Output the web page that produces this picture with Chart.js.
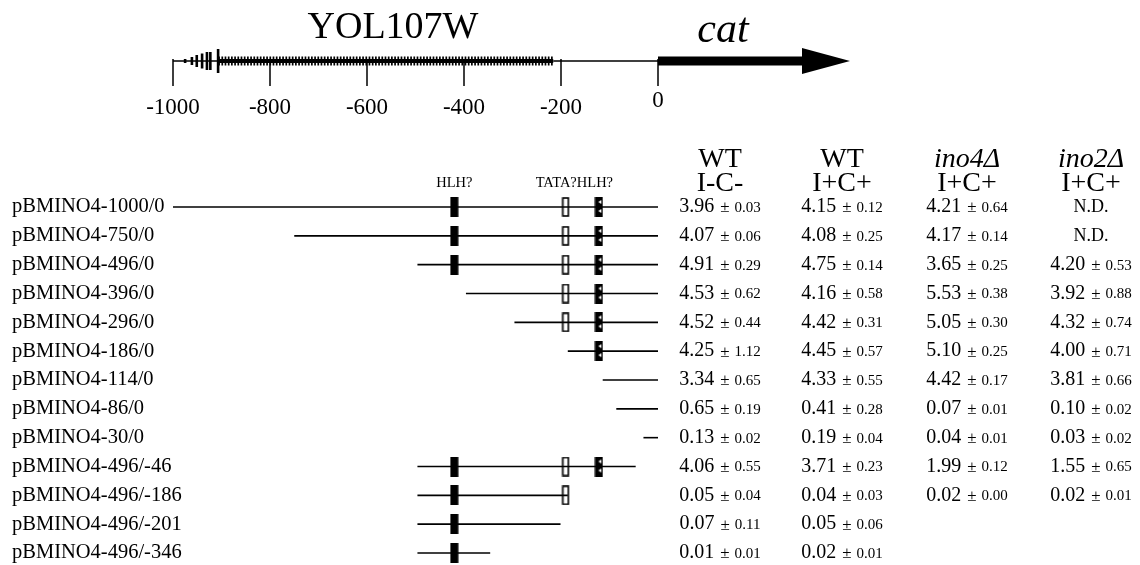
<!DOCTYPE html>
<html>
<head>
<meta charset="utf-8">
<script src="https://cdn.jsdelivr.net/npm/chart.js@4.4.1/dist/chart.umd.min.js"></script>
<style>
  body { margin: 0; background: #fff; }
  canvas { display: block; }
</style>
</head>
<body>
<canvas id="map" width="1140" height="565"></canvas>
<script>
// --- data ---
const constructs = ['pBMINO4-1000/0', 'pBMINO4-750/0', 'pBMINO4-496/0', 'pBMINO4-396/0', 'pBMINO4-296/0',
  'pBMINO4-186/0', 'pBMINO4-114/0', 'pBMINO4-86/0', 'pBMINO4-30/0', 'pBMINO4-496/-46',
  'pBMINO4-496/-186', 'pBMINO4-496/-201', 'pBMINO4-496/-346'];
const starts = [-1000, -750, -496, -396, -296, -186, -114, -86, -30, -496, -496, -496, -496];
const ends = [0, 0, 0, 0, 0, 0, 0, 0, 0, -46, -186, -201, -346];

const hlhUp = -420;    // HLH? (upstream)
const tataBox = -190;  // TATA?
const hlhDown = -122;  // HLH? (downstream)

const scaleTicks = [-1000, -800, -600, -400, -200, 0];

const wtRepMean = [3.96, 4.07, 4.91, 4.53, 4.52, 4.25, 3.34, 0.65, 0.13, 4.06, 0.05, 0.07, 0.01];
const wtRepErr = [0.03, 0.06, 0.29, 0.62, 0.44, 1.12, 0.65, 0.19, 0.02, 0.55, 0.04, 0.11, 0.01];
const wtIndMean = [4.15, 4.08, 4.75, 4.16, 4.42, 4.45, 4.33, 0.41, 0.19, 3.71, 0.04, 0.05, 0.02];
const wtIndErr = [0.12, 0.25, 0.14, 0.58, 0.31, 0.57, 0.55, 0.28, 0.04, 0.23, 0.03, 0.06, 0.01];
const ino4Mean = [4.21, 4.17, 3.65, 5.53, 5.05, 5.10, 4.42, 0.07, 0.04, 1.99, 0.02, null, null];
const ino4Err = [0.64, 0.14, 0.25, 0.38, 0.30, 0.25, 0.17, 0.01, 0.01, 0.12, 0.00, null, null];
const ino2Mean = ['N.D.', 'N.D.', 4.20, 3.92, 4.32, 4.00, 3.81, 0.10, 0.03, 1.55, 0.02, null, null];
const ino2Err = [null, null, 0.53, 0.88, 0.74, 0.71, 0.66, 0.02, 0.02, 0.65, 0.01, null, null];

const serif = '"Liberation Serif", "DejaVu Serif", serif';

// --- box markers as point images ---
function makeBox(kind) {
  const c = document.createElement('canvas');
  c.width = 9; c.height = 20;
  const g = c.getContext('2d');
  if (kind === 'open') {
    g.fillStyle = '#fff';
    g.fillRect(0, 0, 8, 20);
    g.strokeStyle = '#000';
    g.lineWidth = 1.6;
    g.strokeRect(1.5, 1, 5.5, 18);
  } else {
    g.fillStyle = '#000';
    g.fillRect(0.5, 0, 8, 20);
    if (kind === 'notched') {
      g.fillStyle = '#fff';
      g.beginPath(); g.moveTo(4, 5); g.lineTo(7, 3); g.lineTo(7, 7); g.closePath(); g.fill();
      g.beginPath(); g.moveTo(4, 14); g.lineTo(7, 12); g.lineTo(7, 16); g.closePath(); g.fill();
    }
  }
  return c;
}

function boxPoints(pos) {
  const pts = [];
  starts.forEach((s, i) => {
    if (s <= pos && ends[i] >= pos) pts.push({ x: pos, y: i });
  });
  return pts;
}

const datasets = constructs.map((name, i) => ({
  type: 'line',
  label: name,
  data: [{ x: starts[i], y: i }, { x: ends[i], y: i }],
  borderColor: '#000',
  borderWidth: 1.6,
  pointRadius: 0,
  clip: false
}));
datasets.push({ type: 'scatter', label: 'HLH up', data: boxPoints(hlhUp), pointStyle: makeBox('filled'), clip: false });
datasets.push({ type: 'scatter', label: 'TATA', data: boxPoints(tataBox), pointStyle: makeBox('open'), clip: false });
datasets.push({ type: 'scatter', label: 'HLH down', data: boxPoints(hlhDown), pointStyle: makeBox('notched'), clip: false });

// --- gene map, headers and activity table ---
const figureText = {
  id: 'figureText',
  afterDraw(chart) {
    const ctx = chart.ctx;
    const xs = chart.scales.x, ys = chart.scales.y;
    const px = v => xs.getPixelForValue(v);
    const axisY = 61;
    ctx.save();
    ctx.fillStyle = '#000';
    ctx.strokeStyle = '#000';
    ctx.textBaseline = 'middle';

    // title
    ctx.textAlign = 'center';
    ctx.font = '38px ' + serif;
    ctx.fillText('YOL107W', 393, 28);
    ctx.font = 'italic 42px ' + serif;
    ctx.fillText('cat', 723, 31);

    // scale line + ticks
    ctx.lineWidth = 1.5;
    ctx.beginPath();
    ctx.moveTo(px(-216), axisY); ctx.lineTo(px(0), axisY);
    ctx.moveTo(px(-1000), axisY); ctx.lineTo(px(-905), axisY);
    scaleTicks.forEach(t => { ctx.moveTo(px(t), axisY - 2); ctx.lineTo(px(t), axisY + 25); });
    ctx.stroke();
    ctx.font = '23px ' + serif;
    scaleTicks.forEach(t => ctx.fillText(String(t), px(t), t === 0 ? 101 : 108));

    // YOL107W ORF: sparse bars then dense hatch
    const barPos = [-975, -961, -951, -940, -930, -923, -907];
    const barH = [4, 8, 12, 15, 18, 18, 24];
    ctx.lineWidth = 2.6;
    ctx.beginPath();
    barPos.forEach((b, i) => { ctx.moveTo(px(b), axisY - barH[i] / 2); ctx.lineTo(px(b), axisY + barH[i] / 2); });
    ctx.stroke();
    ctx.lineWidth = 4;
    ctx.beginPath(); ctx.moveTo(px(-905), axisY); ctx.lineTo(px(-216), axisY); ctx.stroke();
    ctx.lineWidth = 1.7;
    ctx.beginPath();
    for (let x = px(-905); x <= px(-218); x += 3.2) { ctx.moveTo(x, axisY - 4.5); ctx.lineTo(x, axisY + 4.5); }
    ctx.stroke();

    // cat arrow
    const x0 = px(0);
    ctx.fillRect(x0, axisY - 4.5, 146, 9);
    ctx.beginPath();
    ctx.moveTo(x0 + 144, axisY - 13); ctx.lineTo(x0 + 192, axisY); ctx.lineTo(x0 + 144, axisY + 13);
    ctx.closePath(); ctx.fill();

    // column headers
    const colX = [720, 842, 967, 1091];
    const head1 = ['WT', 'WT', 'ino4\u0394', 'ino2\u0394'];
    const head2 = ['I-C-', 'I+C+', 'I+C+', 'I+C+'];
    head1.forEach((h, i) => {
      ctx.font = (i >= 2 ? 'italic ' : '') + '28px ' + serif;
      ctx.fillText(h, colX[i], 160);
      ctx.font = '28px ' + serif;
      ctx.fillText(head2[i], colX[i], 184);
    });

    // element labels
    ctx.font = '14.5px ' + serif;
    ctx.fillText('HLH?', px(hlhUp), 183);
    ctx.fillText('TATA?HLH?', (px(tataBox) + px(hlhDown)) / 2 - 8, 183);

    // construct names
    ctx.textAlign = 'left';
    ctx.font = '20.5px ' + serif;
    constructs.forEach((c, i) => ctx.fillText(c, 12, ys.getPixelForValue(i)));

    // activity values: mean, then "± error" in smaller type
    const cols = [[wtRepMean, wtRepErr], [wtIndMean, wtIndErr], [ino4Mean, ino4Err], [ino2Mean, ino2Err]];
    cols.forEach(([means, errs], ci) => {
      means.forEach((m, i) => {
        if (m === null) return;
        const y = ys.getPixelForValue(i);
        if (typeof m === 'string') {
          ctx.textAlign = 'center';
          ctx.font = '18px ' + serif;
          ctx.fillText(m, colX[ci], y);
          return;
        }
        const a = m.toFixed(2), e = errs[i].toFixed(2);
        ctx.font = '20px ' + serif; const wa = ctx.measureText(a).width;
        ctx.font = '17px ' + serif; const wpm = ctx.measureText('\u00B1').width;
        ctx.font = '15px ' + serif; const we = ctx.measureText(e).width;
        const total = wa + 6 + wpm + 5 + we;
        let left = colX[ci] - total / 2;
        ctx.textAlign = 'left';
        ctx.font = '20px ' + serif; ctx.fillText(a, left, y);
        left += wa + 6;
        ctx.font = '17px ' + serif; ctx.fillText('\u00B1', left, y + 1);
        left += wpm + 5;
        ctx.font = '15px ' + serif; ctx.fillText(e, left, y + 1);
      });
    });
    ctx.restore();
  }
};

new Chart(document.getElementById('map'), {
  type: 'line',
  data: { datasets },
  options: {
    responsive: false,
    animation: false,
    devicePixelRatio: 1,
    layout: { padding: { left: 173, right: 482, top: 207, bottom: 12 } },
    scales: {
      x: { type: 'linear', min: -1000, max: 0, display: false },
      y: { type: 'linear', min: 0, max: 12, reverse: true, display: false }
    },
    plugins: { legend: { display: false }, tooltip: { enabled: false } }
  },
  plugins: [figureText]
});
</script>
</body>
</html>
